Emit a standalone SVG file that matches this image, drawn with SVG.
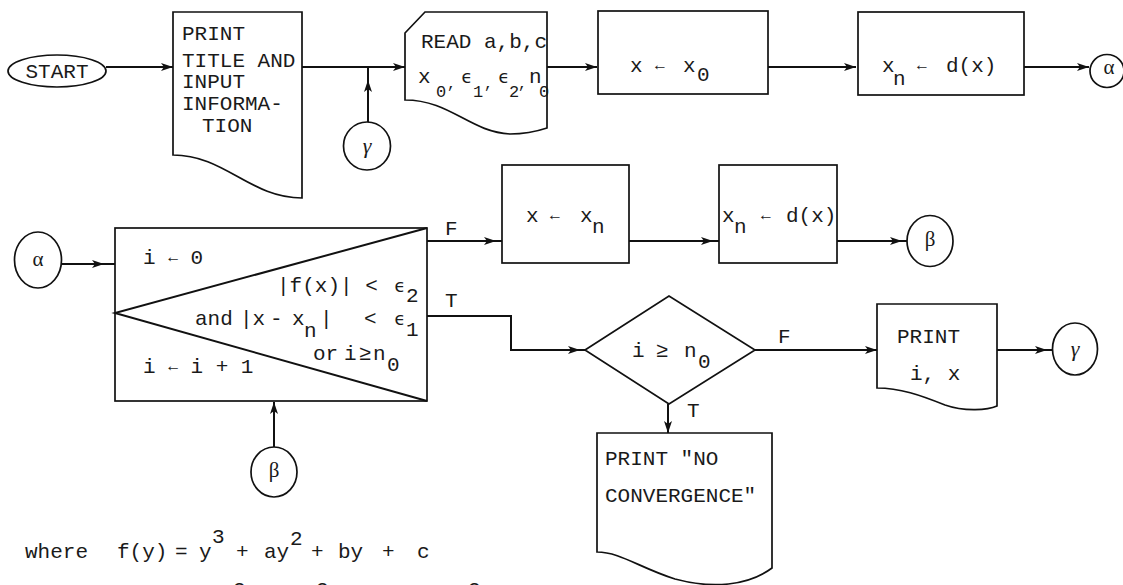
<svg xmlns="http://www.w3.org/2000/svg" width="1123" height="585" viewBox="0 0 1123 585">
<defs>
<style>
.s{fill:#fff;stroke:#111;stroke-width:1.7}
.c{fill:none;stroke:#111;stroke-width:2}
text{font-family:"Liberation Mono","DejaVu Sans Mono",monospace;font-size:21px;fill:#1a1a1a}
.g{font-family:"Liberation Serif","DejaVu Serif",serif;font-size:21px}
.gi{font-family:"Liberation Serif","DejaVu Serif",serif;font-style:italic;font-size:22px}
.e{font-family:"DejaVu Sans Mono","Liberation Mono",monospace;font-size:18px}
.ar{font-size:16px}
.sb{font-size:17px}
.cm{font-size:15px}
</style>
<marker id="ah" markerUnits="userSpaceOnUse" markerWidth="14" markerHeight="10" refX="13" refY="4" orient="auto">
<path d="M1,0 L13,4 L1,8 L4,4 Z" fill="#111"/>
</marker>
</defs>

<g id="connectors">
<line class="c" x1="106" y1="67" x2="173" y2="67" marker-end="url(#ah)"/>
<line class="c" x1="302" y1="67" x2="405" y2="67" marker-end="url(#ah)"/>
<line class="c" x1="368" y1="122" x2="368" y2="80" marker-end="url(#ah)"/>
<line class="c" x1="368" y1="82" x2="368" y2="67"/>
<line class="c" x1="547" y1="67" x2="597" y2="67" marker-end="url(#ah)"/>
<line class="c" x1="768" y1="67" x2="856" y2="67" marker-end="url(#ah)"/>
<line class="c" x1="1024" y1="67" x2="1089" y2="67" marker-end="url(#ah)"/>
<line class="c" x1="62" y1="264" x2="104" y2="264" marker-end="url(#ah)"/>
<line class="c" x1="102" y1="264" x2="115" y2="264"/>
<line class="c" x1="427" y1="241" x2="496" y2="241" marker-end="url(#ah)"/>
<line class="c" x1="494" y1="241" x2="502" y2="241"/>
<line class="c" x1="629" y1="241" x2="713" y2="241" marker-end="url(#ah)"/>
<line class="c" x1="711" y1="241" x2="719" y2="241"/>
<line class="c" x1="837" y1="241" x2="902" y2="241" marker-end="url(#ah)"/>
<line class="c" x1="900" y1="241" x2="907" y2="241"/>
<polyline class="c" points="427,316 511,316 511,350 580,350" marker-end="url(#ah)"/>
<line class="c" x1="578" y1="350" x2="585" y2="350"/>
<line class="c" x1="755" y1="350" x2="877" y2="350" marker-end="url(#ah)"/>
<line class="c" x1="997" y1="350" x2="1047" y2="350" marker-end="url(#ah)"/>
<line class="c" x1="1045" y1="350" x2="1052" y2="350"/>
<line class="c" x1="668" y1="404" x2="668" y2="433" marker-end="url(#ah)"/>
<line class="c" x1="274" y1="447" x2="274" y2="402" marker-end="url(#ah)"/>
<text x="445" y="235">F</text>
<text x="445" y="307">T</text>
<text x="778" y="343">F</text>
<text x="687" y="417">T</text>
</g>

<g id="start">
<ellipse class="s" cx="57" cy="71" rx="49" ry="16"/>
<text x="57" y="78" text-anchor="middle">START</text>
</g>

<g id="print-title">
<path class="s" d="M173,12 H302 V198 C 250,198 225,155 173,155 Z"/>
<text x="182" y="40">PRINT</text>
<text x="182" y="67">TITLE AND</text>
<text x="182" y="88">INPUT</text>
<text x="182" y="110">INFORMA-</text>
<text x="202" y="132">TION</text>
</g>

<g id="gamma-in">
<ellipse class="s" cx="367" cy="146" rx="23.5" ry="24"/>
<text class="gi" x="367" y="153" text-anchor="middle">γ</text>
</g>

<g id="read">
<path class="s" d="M405,33 L425,12 H547 V128 C 535,132 522,134 510,134 C 470,132 450,100 405,100 Z"/>
<text x="421" y="48">READ a,b,c</text>
<text y="83"><tspan x="418">x</tspan><tspan class="sb" x="436" y="97">0</tspan><tspan class="cm" x="447" y="88">,</tspan><tspan class="e" x="461" y="83">ϵ</tspan><tspan class="sb" x="473" y="97">1</tspan><tspan class="cm" x="484" y="88">,</tspan><tspan class="e" x="498" y="83">ϵ</tspan><tspan class="sb" x="509" y="97">2</tspan><tspan class="cm" x="518" y="88">,</tspan><tspan x="529" y="83">n</tspan><tspan class="sb" x="539" y="97">0</tspan></text>
</g>

<g id="init-x">
<rect class="s" x="598" y="11" width="170" height="83"/>
<text y="72"><tspan x="630">x</tspan><tspan class="ar" x="655" y="70">←</tspan><tspan x="683" y="72">x</tspan><tspan x="697" y="81">0</tspan></text>
</g>

<g id="compute-xn">
<rect class="s" x="858" y="12" width="166" height="83"/>
<text y="72"><tspan x="882">x</tspan><tspan x="893" y="85">n</tspan><tspan class="ar" x="917" y="70">←</tspan><tspan x="946" y="72">d(x)</tspan></text>
</g>

<g id="alpha-out">
<ellipse class="s" cx="1107" cy="71" rx="17" ry="16.5"/>
<text class="g" x="1109" y="74" text-anchor="middle">α</text>
</g>

<g id="alpha-in">
<ellipse class="s" cx="38" cy="260" rx="23.5" ry="28"/>
<text class="g" x="38" y="266" text-anchor="middle">α</text>
</g>

<g id="loop-test">
<rect class="s" x="115" y="228" width="312" height="173"/>
<polyline class="c" points="427,228 115,313 427,401"/>
<text x="143" y="264">i <tspan class="ar" dy="-2">←</tspan><tspan dy="2"> 0</tspan></text>
<text y="292"><tspan x="277">|f(x)| &lt; </tspan><tspan class="e" x="394">ϵ</tspan><tspan x="406" y="302">2</tspan></text>
<text y="325"><tspan x="195">and</tspan><tspan x="240">|x</tspan><tspan x="270">-</tspan><tspan x="292">x</tspan><tspan x="304" y="337">n</tspan><tspan x="320" y="325">|</tspan><tspan x="364">&lt;</tspan><tspan class="e" x="394">ϵ</tspan><tspan x="406" y="336">1</tspan></text>
<text y="360"><tspan x="313">or</tspan><tspan x="344">i</tspan><tspan x="359">≥</tspan><tspan x="373">n</tspan><tspan x="387" y="371">0</tspan></text>
<text x="143" y="373">i <tspan class="ar" dy="-2">←</tspan><tspan dy="2"> i + 1</tspan></text>
</g>

<g id="beta-in">
<ellipse class="s" cx="274" cy="472" rx="23" ry="25"/>
<text class="g" x="274" y="477" text-anchor="middle">β</text>
</g>

<g id="update-x">
<rect class="s" x="502" y="165" width="127" height="98"/>
<text y="222"><tspan x="526">x</tspan><tspan class="ar" x="550" y="220">←</tspan><tspan x="580" y="222">x</tspan><tspan x="592" y="233">n</tspan></text>
</g>

<g id="update-xn">
<rect class="s" x="719" y="165" width="118" height="98"/>
<text y="222"><tspan x="722">x</tspan><tspan x="734" y="233">n</tspan><tspan class="ar" x="761" y="220">←</tspan><tspan x="786" y="222">d(x)</tspan></text>
</g>

<g id="beta-out">
<ellipse class="s" cx="930" cy="241" rx="23" ry="25.5"/>
<text class="g" x="930" y="246" text-anchor="middle">β</text>
</g>

<g id="check-n">
<path class="s" d="M585,350 L669,296 L755,350 L669,404 Z"/>
<text y="357"><tspan x="632">i</tspan><tspan x="656">≥</tspan><tspan x="684">n</tspan><tspan x="698" y="368">0</tspan></text>
</g>

<g id="print-ix">
<path class="s" d="M877,304 H997 V406 C 988,410 965,412 945,405 C 920,395 900,388 877,388 Z"/>
<text x="897" y="343">PRINT</text>
<text x="910" y="380">i, x</text>
</g>

<g id="gamma-out">
<ellipse class="s" cx="1075" cy="349" rx="22.5" ry="26"/>
<text class="gi" x="1075" y="356" text-anchor="middle">γ</text>
</g>

<g id="no-convergence">
<path class="s" d="M597,433 H772 V568 C 748,586 712,589 675,579 C 640,568 620,552 597,552 Z"/>
<text x="605" y="465">PRINT "NO</text>
<text x="605" y="502">CONVERGENCE"</text>
</g>

<g id="footnote">
<text y="558"><tspan x="25">where</tspan><tspan x="117">f(y)</tspan><tspan x="175">=</tspan><tspan x="199">y</tspan><tspan x="212" y="543">3</tspan><tspan x="236" y="558">+</tspan><tspan x="264">ay</tspan><tspan x="290" y="545">2</tspan><tspan x="311" y="558">+</tspan><tspan x="338">by</tspan><tspan x="382">+</tspan><tspan x="417">c</tspan></text>
<text y="596"><tspan x="233">2</tspan><tspan x="316">2</tspan><tspan x="468">2</tspan></text>
</g>
</svg>
